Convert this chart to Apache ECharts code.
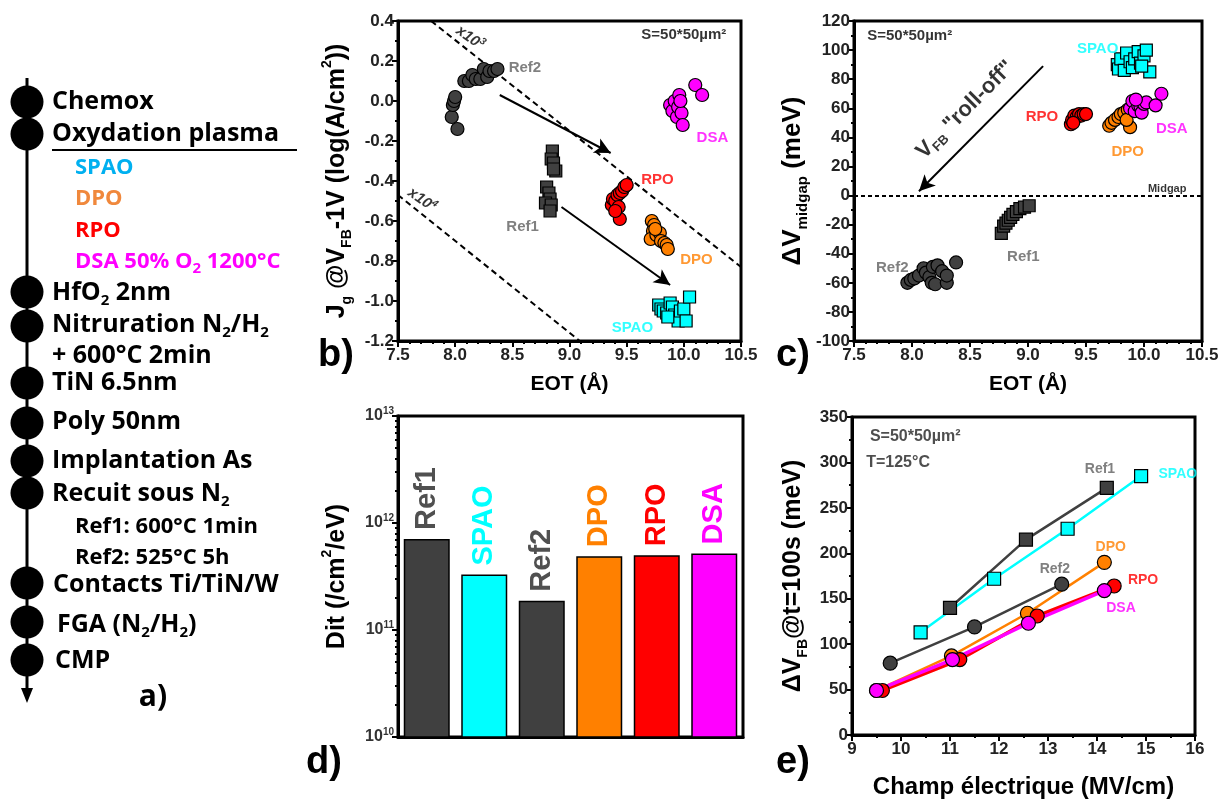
<!DOCTYPE html>
<html><head><meta charset="utf-8">
<script src="https://cdn.jsdelivr.net/npm/echarts@6/dist/echarts.min.js"></script>
<style>html,body{margin:0;padding:0;background:#fff}#c{width:1227px;height:800px}</style>
</head><body><div id="c"></div><script>
// ---------- DATA ----------
// panel b : Jg @ VFB-1V vs EOT
const bRef2 = [[7.97,-0.08],[7.98,-0.02],[7.99,0.0],[8.0,0.02],[8.02,-0.14],[8.08,0.1],[8.12,0.1],[8.15,0.13],[8.18,0.11],[8.22,0.11],[8.25,0.16],[8.28,0.12],[8.3,0.15],[8.34,0.15],[8.37,0.16]];
const bRef1 = [[8.85,-0.25],[8.84,-0.29],[8.86,-0.31],[8.88,-0.35],[8.86,-0.34],[8.8,-0.43],[8.82,-0.46],[8.83,-0.49],[8.79,-0.51],[8.84,-0.52],[8.83,-0.55]];
const bRPO = [[9.37,-0.52],[9.38,-0.49],[9.4,-0.5],[9.42,-0.47],[9.44,-0.46],[9.46,-0.45],[9.48,-0.43],[9.5,-0.42],[9.43,-0.53],[9.44,-0.59],[9.4,-0.55]];
const bDPO = [[9.72,-0.6],[9.74,-0.62],[9.73,-0.65],[9.71,-0.69],[9.76,-0.67],[9.79,-0.66],[9.8,-0.7],[9.83,-0.71],[9.85,-0.72],[9.86,-0.74],[9.75,-0.64]];
const bDSA = [[9.88,-0.02],[9.9,-0.05],[9.92,0.0],[9.94,-0.08],[9.96,0.03],[9.95,-0.03],[9.98,-0.06],[9.99,-0.12],[9.97,0.0],[10.1,0.08],[10.16,0.03]];
const bSPAO = [[9.78,-1.02],[9.8,-1.04],[9.82,-1.05],[9.85,-1.06],[9.88,-1.01],[9.9,-1.03],[9.92,-1.07],[9.95,-1.1],[9.97,-1.05],[10.0,-1.04],[10.02,-1.1],[10.05,-0.98],[9.86,-1.08]];
const bLine1e3 = [[7.79,0.4],[10.5,-0.83]];
const bLine1e4 = [[7.5,-0.47],[9.09,-1.2]];
const bArrows = [[[8.39,0.03],[9.36,-0.26]],[[8.93,-0.53],[9.88,-0.92]]];
// panel c : dV midgap vs EOT
const cRef2 = [[7.96,-60],[7.99,-58],[8.02,-57],[8.06,-55],[8.1,-50],[8.12,-53],[8.15,-56],[8.17,-60],[8.2,-61],[8.18,-49],[8.22,-48],[8.26,-52],[8.3,-60],[8.38,-46],[8.3,-55]];
const cRef1 = [[8.77,-26],[8.79,-21],[8.81,-19],[8.83,-17],[8.85,-15],[8.87,-13],[8.9,-11],[8.93,-9],[8.97,-8],[9.01,-7]];
const cRPO = [[9.37,49],[9.38,52],[9.4,55],[9.42,54],[9.44,56],[9.46,55],[9.48,56],[9.5,56],[9.39,50]];
const cDPO = [[9.7,48],[9.72,50],[9.75,52],[9.78,54],[9.8,56],[9.83,57],[9.86,59],[9.88,47],[9.9,60],[9.85,52]];
const cDSA = [[9.88,60],[9.9,65],[9.92,58],[9.95,62],[9.97,61],[9.98,57],[10.0,63],[10.02,64],[10.1,62],[10.15,70],[9.93,66]];
const cSPAO = [[9.77,90],[9.78,87],[9.8,94],[9.83,86],[9.85,98],[9.88,92],[9.9,88],[9.92,94],[9.95,99],[9.97,91],[10.0,96],[10.02,100],[10.05,85],[9.98,89]];
const cArrow = [[9.13,89],[8.06,3]];
const cMidgap = 0;
// panel d : Dit bars
const dCategories = ['Ref1','SPAO','Ref2','DPO','RPO','DSA'];
const dValues = [7.1e11, 3.3e11, 1.88e11, 4.9e11, 5.0e11, 5.2e11];
// panel e : dVFB @ t=100s vs electric field
const eRef1 = [[11.0,140],[12.55,215],[14.2,272]];
const eSPAO = [[10.4,113],[11.9,172],[13.4,227],[14.9,285]];
const eRef2 = [[9.78,79],[11.5,119],[13.28,166]];
const eDPO = [[9.5,49],[11.03,87],[12.58,134],[14.15,190]];
const eRPO = [[9.62,49],[11.2,83],[12.78,131],[14.35,164]];
const eDSA = [[9.5,49],[11.05,83],[12.6,123],[14.15,159]];

// ---------- STYLE ----------
const COL = {gray:'#404040', cyan:'#00ffff', orange:'#ff8000', red:'#ff0000', magenta:'#ff00ff', txtgray:'#606060'};
const dColors = [COL.gray, COL.cyan, COL.gray, COL.orange, COL.red, COL.magenta];
const dLabelColors = ['#505050', COL.cyan, '#505050', COL.orange, COL.red, COL.magenta];
const F = 'Liberation Sans';

function axis(gi, o){
  return Object.assign({
    gridIndex: gi, type:'value',
    axisLine:{show:true, onZero:false, lineStyle:{color:'#000', width:3}},
    axisTick:{show:true, inside:false, length:6, lineStyle:{color:'#000', width:2}},
    minorTick:{show:true, splitNumber:2, length:3, lineStyle:{color:'#000', width:2}},
    splitLine:{show:false},
    axisLabel:{fontFamily:F, fontWeight:'bold', fontSize:17, color:'#222', margin:5},
    nameLocation:'middle',
    nameTextStyle:{fontFamily:F, fontWeight:'bold', fontSize:20, color:'#000'}
  }, o);
}
const nameRich = (fs)=>({
  m:{fontFamily:F, fontWeight:'bold', fontSize:fs, lineHeight:fs+9, color:'#000'},
  s:{fontFamily:F, fontWeight:'bold', fontSize:Math.round(fs*0.58), lineHeight:Math.round(fs*0.6), verticalAlign:'bottom', color:'#000'},
  p:{fontFamily:F, fontWeight:'bold', fontSize:Math.round(fs*0.58), lineHeight:Math.round(fs*0.6), verticalAlign:'top', color:'#000'}
});

function scat(xi, data, color, sym){
  return {type:'scatter', xAxisIndex:xi, yAxisIndex:xi, data, symbol:sym, symbolSize: sym==='rect'?12:13,
    itemStyle:{color, borderColor:'#000', borderWidth:1.2, opacity:1}, z:3};
}
function eLine(data, color, sym, w){
  return {type:'line', xAxisIndex:3, yAxisIndex:3, data, symbol:sym, symbolSize: sym==='rect'?13:14,
    lineStyle:{color, width:w}, itemStyle:{color, borderColor:'#000', borderWidth:1.2}, z:3};
}
function notes(xi, arr, extra){
  return Object.assign({type:'scatter', xAxisIndex:xi, yAxisIndex:xi, symbolSize:0, silent:true, z:6,
    data: arr.map(n=>({value:[n[1],n[2]], label:{show:true, position:'inside', formatter:n[0], color:n[3],
      fontSize:n[4]||15, rotate:n[5]||0, fontFamily:F, fontWeight:'bold', fontStyle:n[6]||'normal', rich:n[7]}}))}, extra||{});
}
const supR = (fs, c, st)=>({b:{fontSize:fs, color:c, fontStyle:st, fontFamily:F, fontWeight:'bold', lineHeight:fs+4},
  p:{fontSize:Math.round(fs*0.65), color:c, fontStyle:st, fontFamily:F, fontWeight:'bold', lineHeight:Math.round(fs*0.65), verticalAlign:'top'},
  s:{fontSize:Math.round(fs*0.6), color:c, fontFamily:F, fontWeight:'bold', lineHeight:Math.round(fs*0.6), verticalAlign:'bottom'}});
const xLbl = {fontFamily:F, fontWeight:'bold', fontSize:17, color:'#222', margin:6, formatter:v=>v.toFixed(1)};

const option = {
  animation:false,
  backgroundColor:'#fff',
  grid:[
    {left:398, top:21, width:343, height:320, show:true, borderColor:'#000', borderWidth:3},
    {left:854, top:21, width:348, height:320, show:true, borderColor:'#000', borderWidth:3},
    {left:398, top:416, width:345, height:321, show:true, borderColor:'#000', borderWidth:3},
    {left:852, top:417, width:343, height:320, show:true, borderColor:'#000', borderWidth:3}
  ],
  xAxis:[
    axis(0,{min:7.5, max:10.5, interval:0.5, minorTick:{show:true, splitNumber:5, length:3, lineStyle:{color:'#000', width:2}},
      axisLabel:xLbl, name:'EOT (Å)', nameGap:33, nameTextStyle:{fontFamily:F, fontWeight:'bold', fontSize:21, color:'#000'}}),
    axis(1,{min:7.5, max:10.5, interval:0.5, minorTick:{show:true, splitNumber:5, length:3, lineStyle:{color:'#000', width:2}},
      axisLabel:xLbl, name:'EOT (Å)', nameGap:33, nameTextStyle:{fontFamily:F, fontWeight:'bold', fontSize:21, color:'#000'}}),
    {gridIndex:2, type:'category', data:dCategories, axisLine:{lineStyle:{color:'#000', width:3}}, axisTick:{show:false}, axisLabel:{show:false}},
    axis(3,{min:9, max:16, interval:1,
      axisLabel:{fontFamily:F, fontWeight:'bold', fontSize:17, color:'#222', margin:6},
      name:'Champ électrique (MV/cm)', nameGap:40, nameTextStyle:{fontFamily:F, fontWeight:'bold', fontSize:24, color:'#000'}})
  ],
  yAxis:[
    axis(0,{min:-1.2, max:0.4, interval:0.2, axisLabel:{fontFamily:F, fontWeight:'bold', fontSize:17, color:'#222', margin:4, formatter:v=>v.toFixed(1)},
      name:'{m|J}{s|g}{m| @V}{s|FB}{m|-1V (log(A/cm}{p|2}{m|))}', nameGap:44, nameTextStyle:{rich:nameRich(25)}}),
    axis(1,{min:-100, max:120, interval:20, axisLabel:{fontFamily:F, fontWeight:'bold', fontSize:17, color:'#222', margin:4},
      name:'{m|ΔV}{s|midgap}{m| (meV)}', nameGap:44, nameTextStyle:{rich:nameRich(26)}}),
    axis(2,{type:'log', logBase:10, min:1e10, max:1e13,
      minorTick:{show:true, splitNumber:9, length:3, lineStyle:{color:'#000', width:2}},
      axisLabel:{margin:4, formatter:v=>'{b|10}{p|'+Math.round(Math.log10(v))+'}', rich:supR(16,'#333','normal')},
      name:'{m|Dit (/cm}{p|2}{m|/eV)}', nameGap:44, nameTextStyle:{rich:nameRich(25)}}),
    axis(3,{min:0, max:350, interval:50, axisLabel:{fontFamily:F, fontWeight:'bold', fontSize:17, color:'#222', margin:4},
      name:'{m|ΔV}{s|FB}{m|@t=100s (meV)}', nameGap:42, nameTextStyle:{rich:nameRich(25)}})
  ],
  series:[
    // b
    {type:'line', xAxisIndex:0, yAxisIndex:0, data:bLine1e3, symbol:'none', lineStyle:{color:'#000', width:2, type:[6,4]}, z:2},
    {type:'line', xAxisIndex:0, yAxisIndex:0, data:bLine1e4, symbol:'none', lineStyle:{color:'#000', width:2, type:[6,4]}, z:2},
    scat(0,bRef2,COL.gray,'circle'), scat(0,bRef1,COL.gray,'rect'), scat(0,bRPO,COL.red,'circle'),
    scat(0,bDPO,COL.orange,'circle'), scat(0,bDSA,COL.magenta,'circle'), scat(0,bSPAO,COL.cyan,'rect'),
    notes(0,[
      ['S=50*50µm²',10.0,0.33,'#000',15],
      ['Ref2',8.61,0.165,COL.txtgray,15],
      ['Ref1',8.59,-0.63,COL.txtgray,15],
      ['RPO',9.77,-0.395,COL.red,15],
      ['DSA',10.25,-0.185,COL.magenta,15],
      ['DPO',10.11,-0.795,COL.orange,15],
      ['SPAO',9.55,-1.135,COL.cyan,15],
      ['{b|x10}{p|3}',8.13,0.315,'#000',15,-35,'italic',supR(15,'#000','italic')],
      ['{b|x10}{p|4}',7.71,-0.495,'#000',15,-35,'italic',supR(15,'#000','italic')]
    ],{markLine:{silent:true, symbol:['none','arrow'], symbolSize:[12,16], label:{show:false},
      lineStyle:{color:'#000', width:2, type:'solid'},
      data: bArrows.map(a=>[{coord:a[0]},{coord:a[1]}])}}),
    // c
    Object.assign(scat(1,cRef2,COL.gray,'circle'), {markLine:{silent:true, symbol:'none', label:{show:false},
      lineStyle:{color:'#000', width:2, type:[4,3]}, data:[{yAxis:cMidgap}]}}),
    scat(1,cRef1,COL.gray,'rect'), scat(1,cRPO,COL.red,'circle'),
    scat(1,cDPO,COL.orange,'circle'), scat(1,cDSA,COL.magenta,'circle'), scat(1,cSPAO,COL.cyan,'rect'),
    notes(1,[
      ['S=50*50µm²',7.98,110,'#000',15],
      ['SPAO',9.6,101,COL.cyan,15],
      ['RPO',9.12,54,COL.red,15],
      ['DSA',10.24,46,COL.magenta,15],
      ['DPO',9.86,30,COL.orange,15],
      ['Ref1',8.96,-42,COL.txtgray,15],
      ['Ref2',7.83,-50,COL.txtgray,15],
      ['Midgap',10.2,4.5,'#000',11],
      ['{b|V}{s|FB}{b| "roll-off"}',8.46,59,'#000',22,45,'normal',supR(22,'#000','normal')]
    ],{markLine:{silent:true, symbol:['none','arrow'], symbolSize:[12,16], label:{show:false},
      lineStyle:{color:'#000', width:2, type:'solid'},
      data:[[{coord:cArrow[0]},{coord:cArrow[1]}]]}}),
    // d
    {type:'bar', xAxisIndex:2, yAxisIndex:2, barWidth:46,
      data: dValues.map((v,i)=>({value:v, itemStyle:{color:dColors[i]},
        label:{color:dLabelColors[i]}})),
      itemStyle:{borderColor:'#000', borderWidth:1.5},
      label:{show:true, position:'top', rotate:90, align:'left', verticalAlign:'middle', distance:9,
        fontFamily:F, fontWeight:'bold', fontSize:29, formatter:p=>p.name}},
    // e
    eLine(eRef2,COL.gray,'circle',2.5), eLine(eRef1,COL.gray,'rect',2.5), eLine(eSPAO,COL.cyan,'rect',2.5),
    eLine(eDPO,COL.orange,'circle',2.5), eLine(eRPO,COL.red,'circle',3.5), eLine(eDSA,COL.magenta,'circle',3.5),
    notes(3,[
      ['S=50*50µm²',10.29,328,'#222',16],
      ['T=125°C',9.94,300,'#222',16],
      ['Ref1',14.06,293,COL.txtgray,14],
      ['SPAO',15.65,287,COL.cyan,14],
      ['DPO',14.28,207,COL.orange,14],
      ['Ref2',13.14,183,COL.txtgray,14],
      ['RPO',14.94,170,COL.red,14],
      ['DSA',14.49,140,COL.magenta,14]
    ])
  ]
};

// ---------- panel a (process flow) + panel letters ----------
const AF = 'Open Sans';
const g = [];
g.push({type:'line', shape:{x1:27,y1:78,x2:27,y2:690}, style:{stroke:'#000', lineWidth:3}, z:1});
g.push({type:'polygon', shape:{points:[[21,688],[33,688],[27,703]]}, style:{fill:'#000'}, z:1});
[102,134,292,326,383,423,461,493,583,622,660].forEach(y=>g.push({type:'circle', shape:{cx:27,cy:y,r:16.5}, style:{fill:'#000'}, z:2}));
const aRich = (c)=>({n:{fontFamily:AF, fontWeight:'bold', fontSize:25, lineHeight:30, fill:c},
  i:{fontFamily:AF, fontWeight:'bold', fontSize:22, lineHeight:28, fill:c},
  s:{fontFamily:AF, fontWeight:'bold', fontSize:15, lineHeight:15, verticalAlign:'bottom', fill:c}});
const aTexts = [
  ['{n|Chemox}',52,102,'#000'],
  ['{n|Oxydation plasma}',52,134,'#000'],
  ['{i|SPAO}',75,168,'#00b0f0'],
  ['{i|DPO}',75,199,'#f0883c'],
  ['{i|RPO}',75,231,'#ff0000'],
  ['{i|DSA 50% O}{s|2}{i| 1200°C}',75,262,'#ff00ff'],
  ['{n|HfO}{s|2}{n| 2nm}',52,293,'#000'],
  ['{n|Nitruration N}{s|2}{n|/H}{s|2}',52,325,'#000'],
  ['{n|+ 600°C 2min}',52,356,'#000'],
  ['{n|TiN 6.5nm}',52,383,'#000'],
  ['{n|Poly 50nm}',52,422,'#000'],
  ['{n|Implantation As}',52,461,'#000'],
  ['{n|Recuit sous N}{s|2}',52,494,'#000'],
  ['{i|Ref1: 600°C 1min}',75,527,'#000'],
  ['{i|Ref2: 525°C 5h}',75,558,'#000'],
  ['{n|Contacts Ti/TiN/W}',53,585,'#000'],
  ['{n|FGA (N}{s|2}{n|/H}{s|2}{n|)}',57,625,'#000'],
  ['{n|CMP}',55,661,'#000']
];
aTexts.forEach(t=>g.push({type:'text', x:t[1], y:t[2], style:{text:t[0], rich:aRich(t[3]), verticalAlign:'middle', align:'left', fill:t[3]}, z:3}));
g.push({type:'line', shape:{x1:52,y1:150,x2:297,y2:150}, style:{stroke:'#000', lineWidth:2}, z:3});
g.push({type:'text', x:153, y:697, style:{text:'a)', font:'bold 30px "Open Sans"', fill:'#000', align:'center', verticalAlign:'middle'}});
[['b)',336,356],['c)',793,356],['d)',324,763],['e)',793,763]].forEach(t=>
  g.push({type:'text', x:t[1], y:t[2], style:{text:t[0], font:'bold 38px "Liberation Sans"', fill:'#000', align:'center', verticalAlign:'middle'}}));
option.graphic = g;

const chart = echarts.init(document.getElementById('c'), null, {renderer:'canvas'});
chart.setOption(option);
</script></body></html>
